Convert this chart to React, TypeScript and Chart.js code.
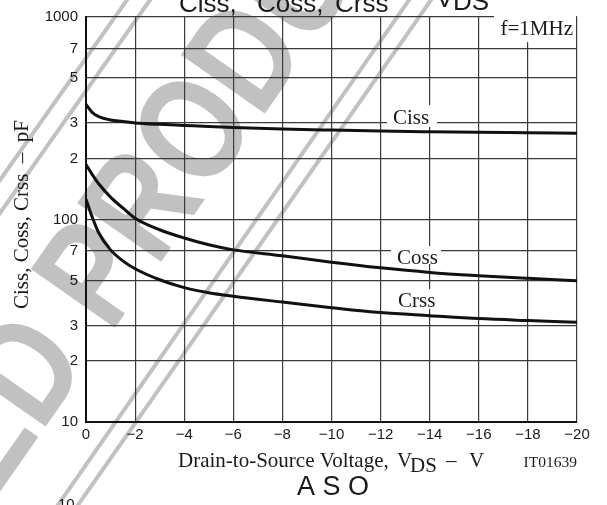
import React, { useEffect, useRef } from 'react';
import { Chart, registerables } from 'chart.js';

Chart.register(...registerables);

// ---- data ----
const vds = [0, -0.25, -0.5, -1, -1.5, -2, -3, -4, -5, -6, -8, -10, -12, -14, -16, -18, -20];
const ciss = [370, 338, 323, 310, 305, 300, 295, 291.5, 288, 285, 280, 276.5, 273.5, 271.3, 269.4, 268, 266.5];
const coss = [187, 167, 151, 129, 114, 101.5, 89, 81, 75, 70.8, 66.2, 61.5, 57.7, 54.8, 52.8, 51.2, 49.8];
const crss = [126, 103, 86.8, 70.8, 62.5, 57.1, 50.4, 46.1, 43.5, 41.8, 39.1, 36.7, 34.7, 33.5, 32.4, 31.7, 31.1];

const xTickValues = [0, -2, -4, -6, -8, -10, -12, -14, -16, -18, -20];
const yTickValues = [10, 20, 30, 50, 70, 100, 200, 300, 500, 700, 1000];
const yTickLabels = ['10', '2', '3', '5', '7', '100', '2', '3', '5', '7', '1000'];

const seriesNames = ['Ciss', 'Coss', 'Crss'];

const SERIF = '"Liberation Serif", "Times New Roman", serif';
const SANS = '"Liberation Sans", Arial, Helvetica, sans-serif';
const INK = '#1a1a1a';
const GREY = '#c1c1c1';

const W = 607;
const H = 505;

const watermarkPlugin = {
  id: 'watermark',
  beforeDraw(chart: any) {
    const ctx = chart.ctx as CanvasRenderingContext2D;
    ctx.save();
    ctx.strokeStyle = GREY;
    ctx.lineWidth = 4;
    const lines = [
      [0, 180, 127, 0],
      [0, 213, 150, 0],
      [58, 505, 409, 0],
      [78, 505, 431, 0],
    ];
    for (const [x1, y1, x2, y2] of lines) {
      const dx = x2 - x1;
      const dy = y2 - y1;
      const len = Math.hypot(dx, dy);
      const ux = dx / len;
      const uy = dy / len;
      ctx.beginPath();
      ctx.moveTo(x1 - ux * 1000, y1 - uy * 1000);
      ctx.lineTo(x1 + ux * 1000, y1 + uy * 1000);
      ctx.stroke();
    }
    ctx.fillStyle = GREY;
    ctx.rotate((-55 * Math.PI) / 180);
    const k = 0.81;
    ctx.scale(k, 1);
    ctx.font = `bold 149px ${SANS}`;
    ctx.textBaseline = 'alphabetic';
    ctx.textAlign = 'left';
    ctx.fillText('ED PRODUCT', -411.7 / k, 282);
    ctx.restore();
  },
};

const labelPlugin = {
  id: 'curveLabels',
  beforeDatasetsDraw(chart: any) {
    const ctx = chart.ctx as CanvasRenderingContext2D;
    ctx.save();
    ctx.fillStyle = '#ffffff';
    // white boxes behind in-plot labels
    ctx.fillRect(494, 15, 82, 27);
    ctx.fillRect(387, 105, 50, 22);
    ctx.fillRect(391, 246, 50, 18);
    ctx.fillRect(392, 289, 50, 20);
    ctx.fillStyle = INK;
    ctx.font = `21px ${SERIF}`;
    ctx.textBaseline = 'alphabetic';
    ctx.textAlign = 'right';
    ctx.fillText('f=1MHz', 573, 35);
    ctx.textAlign = 'left';
    ctx.fillText(seriesNames[0], 393, 124);
    ctx.fillText(seriesNames[1], 397, 264);
    ctx.fillText(seriesNames[2], 398, 307);
    ctx.restore();
  },
};

const textPlugin = {
  id: 'texts',
  afterDraw(chart: any) {
    const ctx = chart.ctx as CanvasRenderingContext2D;
    ctx.save();
    ctx.fillStyle = INK;
    ctx.textBaseline = 'alphabetic';
    ctx.textAlign = 'left';

    // clipped title at the top
    ctx.font = `26px ${SANS}`;
    ctx.fillText('Ciss,', 179, 12);
    ctx.fillText('Coss,', 257, 12);
    ctx.fillText('Crss', 335, 12);
    ctx.fillText('V', 436, 7);
    ctx.fillText('DS', 453, 10);

    // x-axis title
    ctx.font = `21px ${SERIF}`;
    ctx.fillText('Drain-to-Source Voltage,', 178, 467);
    ctx.fillText('V', 397, 467);
    ctx.fillText('DS', 410, 472);
    ctx.fillText('\u2013', 446, 467);
    ctx.fillText('V', 469, 467);
    ctx.font = `15.5px ${SERIF}`;
    ctx.textAlign = 'right';
    ctx.fillText('IT01639', 577, 467);

    // next chart title (clipped)
    ctx.textAlign = 'left';
    ctx.font = `27px ${SANS}`;
    ctx.fillText('A S O', 297, 495);
    ctx.font = `15px ${SANS}`;
    ctx.fillText('10', 58, 509);

    // y-axis title
    ctx.save();
    ctx.translate(28, 214.5);
    ctx.rotate(-Math.PI / 2);
    ctx.textAlign = 'center';
    ctx.font = `21px ${SERIF}`;
    ctx.fillText('Ciss, Coss, Crss  \u2013  pF', 0, 0);
    ctx.restore();

    ctx.restore();
  },
};

export default function App() {
  const ref = useRef<HTMLCanvasElement | null>(null);

  useEffect(() => {
    document.body.style.margin = '0';
    const canvas = ref.current;
    if (!canvas) return;
    const mk = (vals: number[]) => vds.map((x, i) => ({ x, y: vals[i] }));
    const chart = new Chart(canvas, {
      type: 'line',
      data: {
        datasets: [ciss, coss, crss].map((vals, i) => ({
          label: seriesNames[i],
          data: mk(vals),
          borderColor: '#111111',
          borderWidth: 3,
          pointRadius: 0,
          fill: false,
          cubicInterpolationMode: 'monotone' as const,
        })),
      },
      options: {
        responsive: false,
        maintainAspectRatio: false,
        animation: false,
        devicePixelRatio: 1,
        layout: { padding: { top: 14, right: 30, left: 0, bottom: 0 } },
        plugins: {
          legend: { display: false },
          tooltip: { enabled: false },
          title: { display: false },
        },
        scales: {
          x: {
            type: 'linear',
            min: -20,
            max: 0,
            reverse: true,
            afterFit: (s: any) => {
              s.height = 83;
            },
            afterBuildTicks: (s: any) => {
              s.ticks = xTickValues.map((v) => ({ value: v }));
            },
            ticks: {
              color: INK,
              font: { family: SANS, size: 15 },
              padding: 4,
              maxRotation: 0,
              autoSkip: false,
              callback: (v: any) => (Number(v) === 0 ? '0' : '\u2212' + Math.abs(Number(v))),
            },
            grid: { color: '#3a3a3a', lineWidth: 1.2, drawTicks: false },
            border: { color: '#111111', width: 2 },
          },
          y: {
            type: 'logarithmic',
            min: 10,
            max: 1000,
            afterFit: (s: any) => {
              s.width = 86;
            },
            afterBuildTicks: (s: any) => {
              s.ticks = yTickValues.map((v) => ({ value: v }));
            },
            ticks: {
              color: INK,
              font: { family: SANS, size: 15 },
              padding: 8,
              autoSkip: false,
              callback: (_v: any, i: number) => yTickLabels[i],
            },
            grid: { color: '#3a3a3a', lineWidth: 1.2, drawTicks: false },
            border: { color: '#111111', width: 2 },
          },
        },
      },
      plugins: [watermarkPlugin, labelPlugin, textPlugin],
    } as any);
    return () => chart.destroy();
  }, []);

  return (
    <div style={{ width: W, height: H, background: '#ffffff' }}>
      <canvas ref={ref} width={W} height={H} style={{ display: 'block' }} />
    </div>
  );
}
